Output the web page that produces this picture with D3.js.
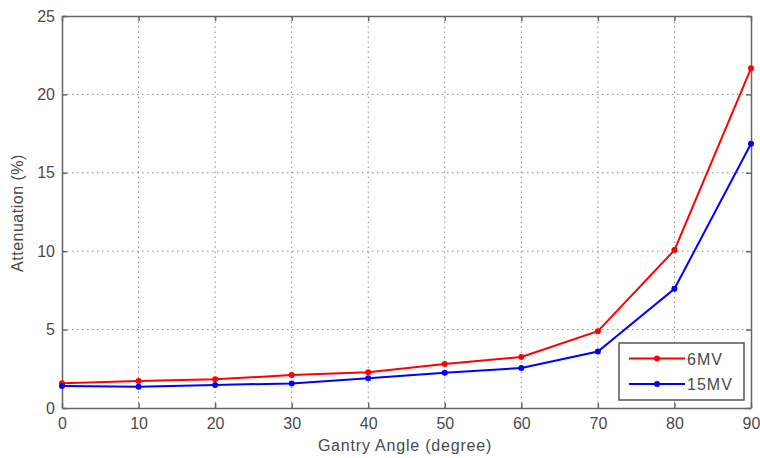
<!DOCTYPE html>
<html>
<head>
<meta charset="utf-8">
<script src="https://cdn.jsdelivr.net/npm/d3@7"></script>
<style>
  body { margin: 0; background: #fff; }
  text { font-family: "Liberation Sans", Arial, sans-serif; fill: #4a4a4a; }
</style>
</head>
<body>
<div id="chart"></div>
<script>
const W = 760, H = 458;
const margin = {left: 62, right: 9, top: 16, bottom: 50};

const angles = [0, 10, 20, 30, 40, 50, 60, 70, 80, 90];
const mv6 = [1.58, 1.72, 1.83, 2.1, 2.28, 2.8, 3.25, 4.9, 10.07, 21.66];
const mv15 = [1.4, 1.36, 1.47, 1.57, 1.9, 2.25, 2.55, 3.6, 7.6, 16.85];
const xTicks = [0, 10, 20, 30, 40, 50, 60, 70, 80, 90];
const yTicks = [0, 5, 10, 15, 20, 25];
const seriesNames = ["6MV", "15MV"];
const seriesColors = ["#ff0000", "#0000ff"];

const svg = d3.select("#chart").append("svg")
    .attr("width", W).attr("height", H);

const x = d3.scaleLinear().domain([0, 90]).range([margin.left, W - margin.right]);
const y = d3.scaleLinear().domain([0, 25]).range([H - margin.bottom, margin.top]);

const axisColor = "#666";

// grid
svg.append("g").selectAll("line.gx")
    .data(xTicks.slice(1, -1))
    .enter().append("line")
    .attr("x1", d => x(d)).attr("x2", d => x(d))
    .attr("y1", y(0)).attr("y2", y(25))
    .attr("stroke", "#888").attr("stroke-width", 1)
    .attr("stroke-dasharray", "1.5,3.5");
svg.append("g").selectAll("line.gy")
    .data(yTicks.slice(1, -1))
    .enter().append("line")
    .attr("y1", d => y(d)).attr("y2", d => y(d))
    .attr("x1", x(0)).attr("x2", x(90))
    .attr("stroke", "#888").attr("stroke-width", 1)
    .attr("stroke-dasharray", "1.5,3.5");

// axes (ticks inward, on all sides like a box)
const tickLen = 5;
const bottomAxis = d3.axisBottom(x).tickValues(xTicks).tickSizeInner(-tickLen).tickSizeOuter(0).tickPadding(10);
const topAxis = d3.axisTop(x).tickValues(xTicks).tickSizeInner(-tickLen).tickSizeOuter(0).tickFormat("");
const leftAxis = d3.axisLeft(y).tickValues(yTicks).tickSizeInner(-tickLen).tickSizeOuter(0).tickPadding(7);
const rightAxis = d3.axisRight(y).tickValues(yTicks).tickSizeInner(-tickLen).tickSizeOuter(0).tickFormat("");

function styleAxis(g) {
    g.select(".domain").attr("stroke", axisColor).attr("stroke-width", 1.5);
    g.selectAll(".tick line").attr("stroke", axisColor).attr("stroke-width", 1.5);
    g.selectAll(".tick text").attr("fill", "#4a4a4a").style("font-size", "16px")
        .style("font-family", "'Liberation Sans', Arial, sans-serif");
}

svg.append("g").attr("transform", `translate(0,${y(0)})`).call(bottomAxis).call(styleAxis);
svg.append("g").attr("transform", `translate(0,${y(25)})`).call(topAxis).call(styleAxis);
svg.append("g").attr("transform", `translate(${x(0)},0)`).call(leftAxis).call(styleAxis);
svg.append("g").attr("transform", `translate(${x(90)},0)`).call(rightAxis).call(styleAxis);

// axis labels
svg.append("text")
    .attr("x", 405).attr("y", 451)
    .attr("text-anchor", "middle")
    .style("font-size", "16px")
    .style("letter-spacing", "0.8px")
    .text("Gantry Angle (degree)");
svg.append("text")
    .attr("transform", `translate(23,213) rotate(-90)`)
    .attr("text-anchor", "middle")
    .style("font-size", "16px")
    .style("letter-spacing", "0.5px")
    .text("Attenuation (%)");

// series
const line = d3.line().x((d, i) => x(angles[i])).y(d => y(d));
[mv6, mv15].forEach((vals, k) => {
    svg.append("path")
        .datum(vals)
        .attr("d", line)
        .attr("fill", "none")
        .attr("stroke", seriesColors[k])
        .attr("stroke-width", 2);
    svg.append("g").selectAll("circle")
        .data(vals)
        .enter().append("circle")
        .attr("cx", (d, i) => x(angles[i]))
        .attr("cy", d => y(d))
        .attr("r", 3)
        .attr("fill", seriesColors[k]);
});

// legend
const lg = svg.append("g").attr("transform", "translate(619,343)");
lg.append("rect")
    .attr("width", 125).attr("height", 57)
    .attr("fill", "#fff").attr("stroke", "#555").attr("stroke-width", 1.5);
seriesNames.forEach((name, k) => {
    const ly = 15.5 + k * 25.5;
    lg.append("line")
        .attr("x1", 10).attr("x2", 66).attr("y1", ly).attr("y2", ly)
        .attr("stroke", seriesColors[k]).attr("stroke-width", 2);
    lg.append("circle").attr("cx", 38).attr("cy", ly).attr("r", 3).attr("fill", seriesColors[k]);
    lg.append("text")
        .attr("x", 68).attr("y", ly + 6)
        .style("font-size", "16px")
        .style("letter-spacing", "1px")
        .text(name);
});
</script>
</body>
</html>
